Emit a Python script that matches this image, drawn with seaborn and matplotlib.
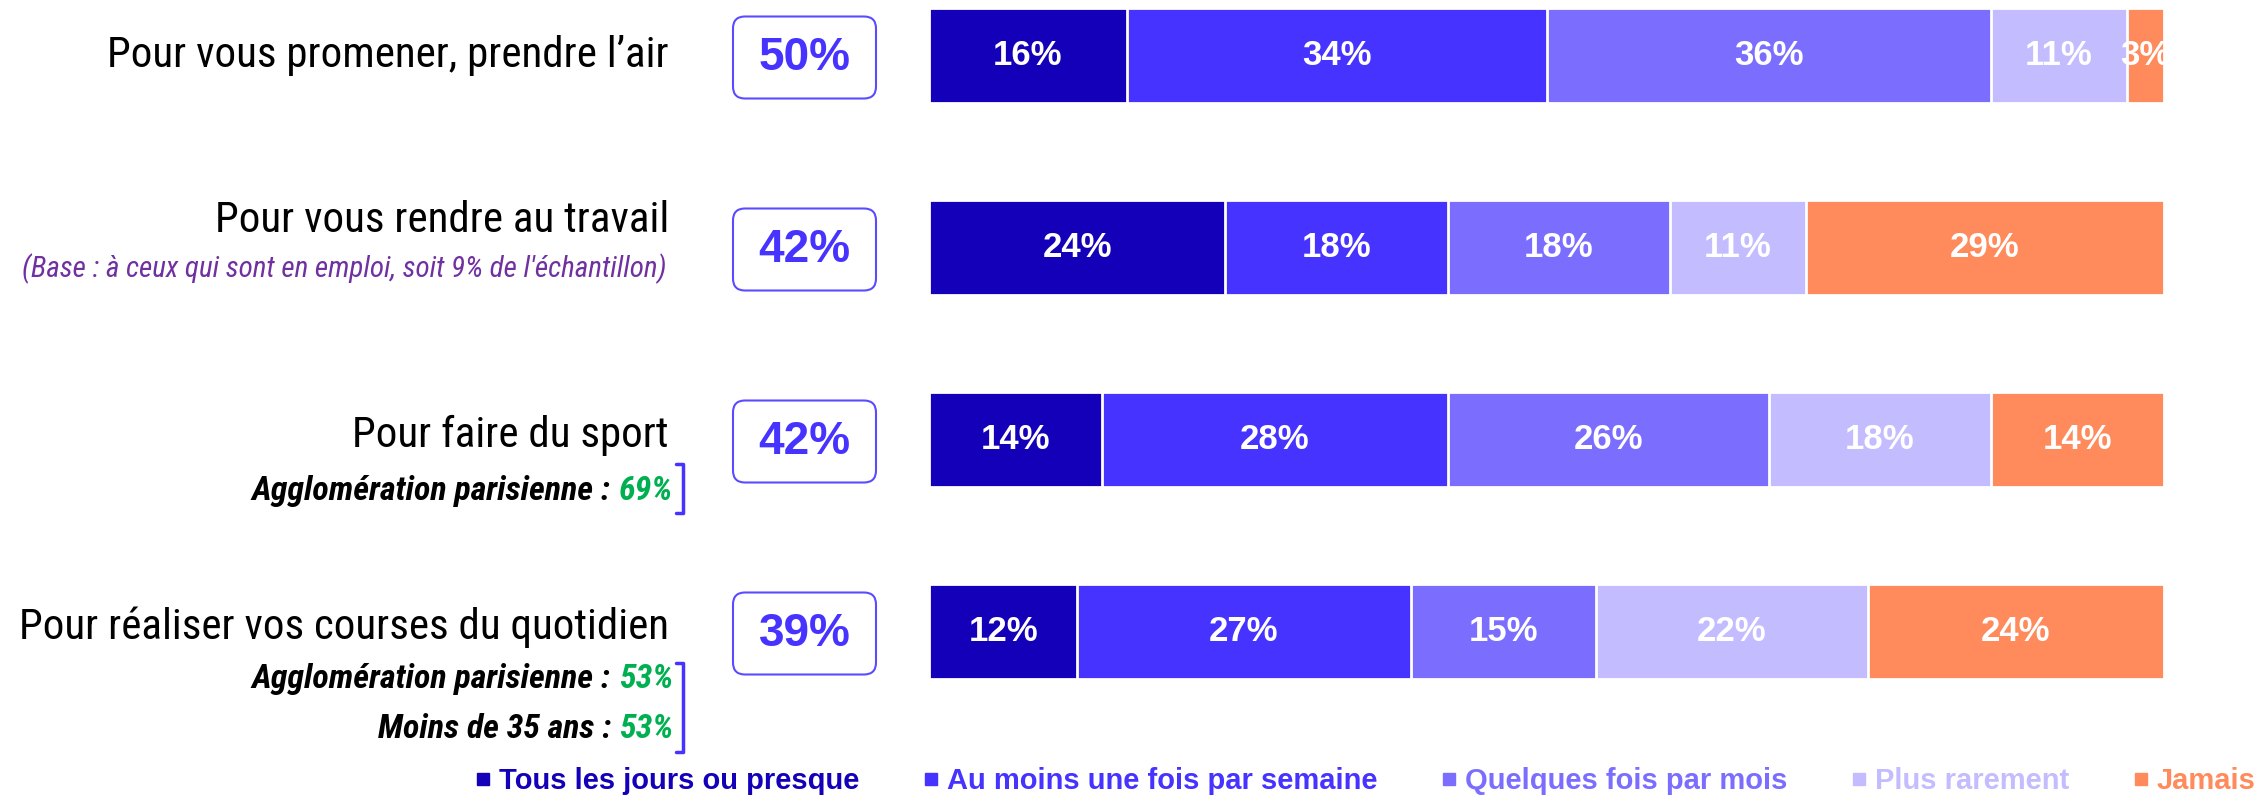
import numpy as np
import pandas as pd
import seaborn as sns
import matplotlib.pyplot as plt
import matplotlib.transforms as mtransforms
from matplotlib.patches import FancyBboxPatch
from matplotlib.lines import Line2D

categories = ["Pour vous promener, prendre l’air",
              "Pour vous rendre au travail",
              "Pour faire du sport",
              "Pour réaliser vos courses du quotidien"]
series = ["Tous les jours ou presque", "Au moins une fois par semaine",
          "Quelques fois par mois", "Plus rarement", "Jamais"]
tous_les_jours = [16, 24, 14, 12]
au_moins_semaine = [34, 18, 28, 27]
quelques_fois = [36, 18, 26, 15]
plus_rarement = [11, 11, 18, 22]
jamais = [3, 29, 14, 24]
totals = ["50%", "42%", "42%", "39%"]
base_note = "(Base : à ceux qui sont en emploi, soit 9% de l'échantillon)"
notes = [[], [], [("Agglomération parisienne : ", "69%")],
         [("Agglomération parisienne : ", "53%"), ("Moins de 35 ans : ", "53%")]]

colors = ["#1400B8", "#4633FF", "#7B6EFF", "#C3BDFF", "#FF8A5B"]
narrow = ["Roboto Condensed", "Liberation Sans", "DejaVu Sans"]
arial = ["Liberation Sans", "DejaVu Sans"]

sns.set_theme(style="white")
plt.rcParams["font.family"] = arial

W, H = 2255, 797
fig = plt.figure(figsize=(W / 100, H / 100), dpi=100)
ax = fig.add_axes([929 / W, 0, (2164 - 929) / W, 1])

values = np.array([tous_les_jours, au_moins_semaine, quelques_fois, plus_rarement, jamais]).T
cum = values.cumsum(axis=1)
df = pd.DataFrame(cum, columns=series)
df["cat"] = categories

# draw from the full bar down to the first segment so every layer overlays
for i in reversed(range(len(series))):
    sns.barplot(data=df, x=series[i], y="cat", color=colors[i], orient="h",
                width=0.49, edgecolor="white", linewidth=2, saturation=1, ax=ax)

for r in range(len(categories)):
    left = 0
    for i in range(len(series)):
        v = values[r, i]
        ax.text(left + v / 2, r, f"{v}%", ha="center", va="center", color="white",
                fontsize=25, fontweight="bold", family=arial)
        left += v

ax.set_xlim(0, 100)
ax.set_ylim(3.862, -0.289)
ax.axis("off")

tr = mtransforms.blended_transform_factory(fig.transFigure, ax.transData)
xr = 669 / W

main_dy = [0, -0.143, -0.02, -0.02]
for r, cat in enumerate(categories):
    ax.text(xr, r + main_dy[r], cat, transform=tr, ha="right", va="center",
            fontsize=31, family=narrow, color="black")

ax.text(xr - 3 / W, 1 + 0.11, base_note, transform=tr, ha="right", va="center",
        fontsize=21, style="italic", family=narrow, color="#7030A0")

note_dy = {2: [0.27], 3: [0.25, 0.51]}
bracket = {2: (0.127, 0.382), 3: (0.164, 0.628)}
for r, items in enumerate(notes):
    for k, (txt, pct) in enumerate(items):
        g = ax.text(673 / W, r + note_dy[r][k], pct, transform=tr, ha="right", va="center",
                    fontsize=24.5, style="italic", fontweight="bold", family=narrow, color="#00B050")
        ax.annotate(txt, xy=(0, 0.5), xycoords=g, ha="right", va="center",
                    fontsize=24.5, style="italic", fontweight="bold", family=narrow, color="black")
    if r in bracket:
        y0, y1 = bracket[r]
        ax.plot([676 / W, 683 / W, 683 / W, 676 / W], [r + y0, r + y0, r + y1, r + y1],
                transform=tr, color="#4633FF", lw=2.5, solid_joinstyle="round", clip_on=False)

# boxes with the total
for r, t in enumerate(totals):
    cy = (H - (57.5 + 192 * r)) / 100
    box = FancyBboxPatch((7.33 + 0.12, cy - 0.41 + 0.12), 1.43 - 0.24, 0.82 - 0.24,
                         boxstyle="round,pad=0.12", transform=fig.dpi_scale_trans,
                         facecolor="white", edgecolor="#5B4BFF", linewidth=1.5)
    fig.patches.append(box)
    fig.text(8.045 / (W / 100), cy / (H / 100), t, ha="center", va="center",
             fontsize=33, fontweight="bold", color="#4633FF", family=arial)

handles = [Line2D([], [], marker="s", linestyle="", markersize=8, color=c) for c in colors]
leg = fig.legend(handles, series, loc="center left", bbox_to_anchor=(476 / W, 1 - 781 / H),
                 ncol=5, frameon=False, prop={"size": 21, "weight": "bold", "family": arial},
                 handlelength=0.5, handletextpad=0.3, columnspacing=2.2,
                 borderaxespad=0, borderpad=0)
for txt, c in zip(leg.get_texts(), colors):
    txt.set_color(c)

fig.savefig("out.png", dpi=100)
